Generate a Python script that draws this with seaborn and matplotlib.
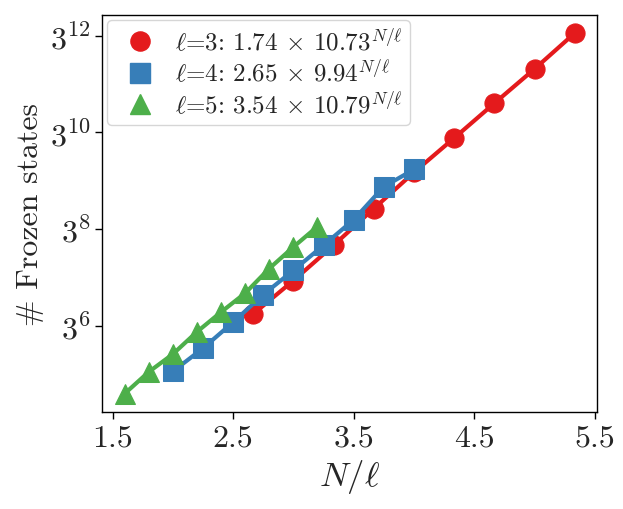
import matplotlib
matplotlib.use("Agg")
import matplotlib.pyplot as plt
import seaborn as sns
import pandas as pd
from matplotlib.lines import Line2D
from matplotlib.ticker import NullLocator

# N/l values and frozen state counts
x_l3 = [2.667, 3.0, 3.333, 3.667, 4.0, 4.333, 4.667, 5.0, 5.333]
y_l3 = [949, 2027, 4518, 10406, 23720, 51700, 114150, 248900, 561200]

x_l4 = [2.0, 2.25, 2.5, 2.75, 3.0, 3.25, 3.5, 3.75, 4.0]
y_l4 = [257, 435, 787, 1472, 2559, 4518, 8083, 17130, 25364]

x_l5 = [1.6, 1.8, 2.0, 2.2, 2.4, 2.6, 2.8, 3.0, 3.2]
y_l5 = [155, 254, 381, 632, 991, 1522, 2668, 4352, 6929]

labels = [r"$\ell$=3: 1.74 $\times$ 10.73$^{N/\ell}$",
          r"$\ell$=4: 2.65 $\times$ 9.94$^{N/\ell}$",
          r"$\ell$=5: 3.54 $\times$ 10.79$^{N/\ell}$"]
colors = ["#e41a1c", "#377eb8", "#4daf4a"]
markers = ["o", "s", "^"]

xticks = [1.5, 2.5, 3.5, 4.5, 5.5]
xticklabels = ["1.5", "2.5", "3.5", "4.5", "5.5"]
yexps = [6, 8, 10, 12]

sns.set_style("ticks")
plt.rcParams.update({
    "font.family": "serif",
    "font.serif": ["cmr10", "DejaVu Serif"],
    "mathtext.fontset": "cm",
    "axes.formatter.use_mathtext": True,
    "axes.unicode_minus": False,
})

fig = plt.figure(figsize=(6.23, 5.10), dpi=100)
ax = fig.add_axes([0.164, 0.190, 0.794, 0.779])

series = [(x_l3, y_l3), (x_l4, y_l4), (x_l5, y_l5)]
for (xs, ys), c, m in zip(series, colors, markers):
    df = pd.DataFrame({"x": xs, "y": ys})
    sns.lineplot(data=df, x="x", y="y", ax=ax, color=c, marker=m,
                 markersize=13.8, markeredgecolor=c, linewidth=3,
                 legend=False)

ax.set_yscale("log", base=3)
ax.set_yticks([3.0 ** e for e in yexps])
ax.set_yticklabels([f"$3^{{{e}}}$" for e in yexps])
ax.yaxis.set_minor_locator(NullLocator())
ax.set_ylim(3 ** 4.21, 3 ** 12.43)

ax.set_xticks(xticks)
ax.set_xticklabels(xticklabels)
ax.set_xlim(1.414, 5.517)

ax.tick_params(axis="both", labelsize=23, direction="out", length=5, width=1,
               color="black")
for sp in ax.spines.values():
    sp.set_color("black")
    sp.set_linewidth(1)

ax.set_xlabel(r"$N/\ell$", fontsize=25)
ax.set_ylabel("# Frozen states", fontsize=23)

handles = [Line2D([], [], color=c, marker=m, linestyle="none", markersize=13.8)
           for c, m in zip(colors, markers)]
ax.legend(handles, labels, loc="upper left", fontsize=18, frameon=True,
          borderaxespad=0.2, handletextpad=0.4, labelspacing=0.15,
          borderpad=0.3)

fig.savefig("out.png", dpi=100)
